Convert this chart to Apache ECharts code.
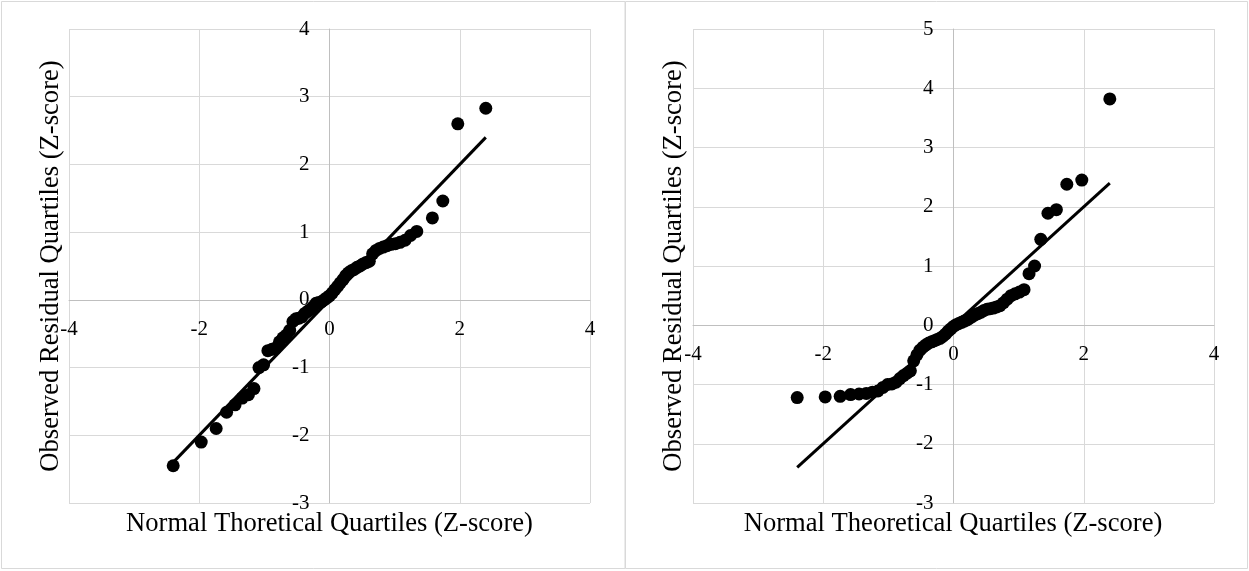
<!DOCTYPE html>
<html>
<head>
<meta charset="utf-8">
<script src="https://cdn.jsdelivr.net/npm/echarts@6/dist/echarts.min.js"></script>
<style>
  html, body { margin: 0; padding: 0; background: #ffffff; }
  #chart { width: 1249px; height: 571px; }
</style>
</head>
<body>
<div id="chart"></div>
<script>
// left panel: theoretical vs observed quantiles
const leftX = [-2.40, -1.97, -1.74, -1.58, -1.45, -1.34, -1.245, -1.16, -1.083, -1.012,
  -0.946, -0.883, -0.824, -0.768, -0.714, -0.662, -0.611, -0.562, -0.515, -0.468,
  -0.423, -0.379, -0.335, -0.292, -0.249, -0.207, -0.165, -0.124, -0.082, -0.041,
  0, 0.041, 0.082, 0.124, 0.165, 0.207, 0.249, 0.292, 0.335, 0.379,
  0.423, 0.468, 0.515, 0.562, 0.611, 0.662, 0.714, 0.768, 0.824, 0.883,
  0.946, 1.012, 1.083, 1.16, 1.245, 1.34, 1.58, 1.74, 1.97, 2.40]
const leftY = [-2.45, -2.10, -1.90, -1.66, -1.55, -1.45, -1.40, -1.31, -1.00, -0.96,
  -0.75, -0.73, -0.71, -0.62, -0.56, -0.52, -0.45, -0.32, -0.28, -0.27,
  -0.25, -0.20, -0.17, -0.14, -0.10, -0.05, -0.04, -0.03, 0.00, 0.03,
  0.06, 0.10, 0.15, 0.20, 0.25, 0.30, 0.36, 0.40, 0.43, 0.45,
  0.48, 0.50, 0.53, 0.55, 0.57, 0.68, 0.73, 0.76, 0.78, 0.80,
  0.82, 0.83, 0.85, 0.88, 0.95, 1.01, 1.21, 1.46, 2.60, 2.83]

// right panel
const rightX = [-2.40, -1.97, -1.74, -1.58, -1.45, -1.34, -1.245, -1.16, -1.083, -1.012,
  -0.946, -0.883, -0.824, -0.768, -0.714, -0.662, -0.611, -0.562, -0.515, -0.468,
  -0.423, -0.379, -0.335, -0.292, -0.249, -0.207, -0.165, -0.124, -0.082, -0.041,
  0, 0.041, 0.082, 0.124, 0.165, 0.207, 0.249, 0.292, 0.335, 0.379,
  0.423, 0.468, 0.515, 0.562, 0.611, 0.662, 0.714, 0.768, 0.824, 0.883,
  0.946, 1.012, 1.083, 1.16, 1.245, 1.34, 1.45, 1.58, 1.74, 1.97, 2.40]
const rightY = [-1.22, -1.21, -1.20, -1.17, -1.16, -1.15, -1.13, -1.11, -1.05, -1.00,
  -0.99, -0.96, -0.90, -0.85, -0.81, -0.77, -0.60, -0.50, -0.42, -0.37,
  -0.33, -0.30, -0.28, -0.26, -0.24, -0.22, -0.19, -0.15, -0.10, -0.06,
  -0.02, 0.01, 0.03, 0.05, 0.07, 0.09, 0.12, 0.15, 0.18, 0.20,
  0.22, 0.25, 0.27, 0.28, 0.29, 0.31, 0.33, 0.38, 0.44, 0.50,
  0.53, 0.56, 0.60, 0.87, 1.00, 1.45, 1.89, 1.95, 2.38, 2.45, 3.82]

// reference line y = x
const refLineX = [-2.4, 2.4]
const refLineY = [-2.4, 2.4]

const xTicks = { min: -4, max: 4, interval: 2 }
const leftYTicks = { min: -3, max: 4, interval: 1 }
const rightYTicks = { min: -3, max: 5, interval: 1 }

const xTitleLeft = 'Normal Thoretical Quartiles (Z-score)'
const xTitleRight = 'Normal Theoretical Quartiles (Z-score)'
const yTitle = 'Observed Residual Quartiles (Z-score)'

const FONT = '"Liberation Serif", "DejaVu Serif", serif'
const GRID_COLOR = '#d9d9d9'
const AXIS_COLOR = '#bfbfbf'
const PLOT_TOP = 29
const PLOT_H = 474
const PLOT_W = 521

const zip = (xs, ys) => xs.map((x, i) => [x, ys[i]])

// the axes cross at zero; labels follow the crossing, so shift the axes inward
const zeroOffsetY = (ticks) => -(PLOT_H * (0 - ticks.min) / (ticks.max - ticks.min))
const zeroOffsetX = -(PLOT_W * (0 - xTicks.min) / (xTicks.max - xTicks.min))

const buildXAxis = (gridIndex, yTicks) => ({
  type: 'value',
  gridIndex,
  position: 'bottom',
  offset: zeroOffsetY(yTicks),
  min: xTicks.min,
  max: xTicks.max,
  interval: xTicks.interval,
  axisLine: { onZero: false, lineStyle: { color: AXIS_COLOR, width: 1 } },
  axisTick: { show: false },
  axisLabel: { color: '#000', fontSize: 21, fontFamily: FONT, margin: 19 },
  splitLine: { lineStyle: { color: GRID_COLOR, width: 1 } }
})

const buildYAxis = (gridIndex, ticks) => ({
  type: 'value',
  gridIndex,
  position: 'left',
  offset: zeroOffsetX,
  min: ticks.min,
  max: ticks.max,
  interval: ticks.interval,
  axisLine: { onZero: false, lineStyle: { color: AXIS_COLOR, width: 1 } },
  axisTick: { show: false },
  axisLabel: { color: '#000', fontSize: 21, fontFamily: FONT, margin: 20 },
  splitLine: { lineStyle: { color: GRID_COLOR, width: 1 } }
})

const scatterSeries = (idx, data) => ({
  type: 'scatter',
  xAxisIndex: idx,
  yAxisIndex: idx,
  symbol: 'circle',
  symbolSize: 13,
  itemStyle: { color: '#000', opacity: 1 },
  data,
  z: 3
})

const lineSeries = (idx) => ({
  type: 'line',
  xAxisIndex: idx,
  yAxisIndex: idx,
  showSymbol: false,
  symbol: 'none',
  lineStyle: { color: '#000', width: 3 },
  data: zip(refLineX, refLineY),
  z: 4
})

const titleText = (x, y, text, rotate) => ({
  type: 'text',
  x,
  y,
  rotation: rotate ? Math.PI / 2 : 0,
  style: {
    text,
    font: '26.6px ' + FONT,
    fill: '#000',
    align: 'center',
    verticalAlign: 'middle'
  }
})

const chart = echarts.init(document.getElementById('chart'))

chart.setOption({
  animation: false,
  backgroundColor: '#ffffff',
  grid: [
    { left: 69, top: PLOT_TOP, width: PLOT_W, height: PLOT_H },
    { left: 693, top: PLOT_TOP, width: PLOT_W, height: PLOT_H }
  ],
  xAxis: [buildXAxis(0, leftYTicks), buildXAxis(1, rightYTicks)],
  yAxis: [buildYAxis(0, leftYTicks), buildYAxis(1, rightYTicks)],
  series: [
    scatterSeries(0, zip(leftX, leftY)),
    lineSeries(0),
    scatterSeries(1, zip(rightX, rightY)),
    lineSeries(1)
  ],
  graphic: [
    {
      type: 'rect',
      shape: { x: 1.5, y: 1.5, width: 623.5, height: 567 },
      style: { fill: 'none', stroke: GRID_COLOR, lineWidth: 1 }
    },
    {
      type: 'rect',
      shape: { x: 625.5, y: 1.5, width: 622, height: 567 },
      style: { fill: 'none', stroke: GRID_COLOR, lineWidth: 1 }
    },
    titleText(329.5, 524, xTitleLeft, false),
    titleText(953, 524, xTitleRight, false),
    titleText(51, 266, yTitle, true),
    titleText(674, 266, yTitle, true)
  ]
})
</script>
</body>
</html>
